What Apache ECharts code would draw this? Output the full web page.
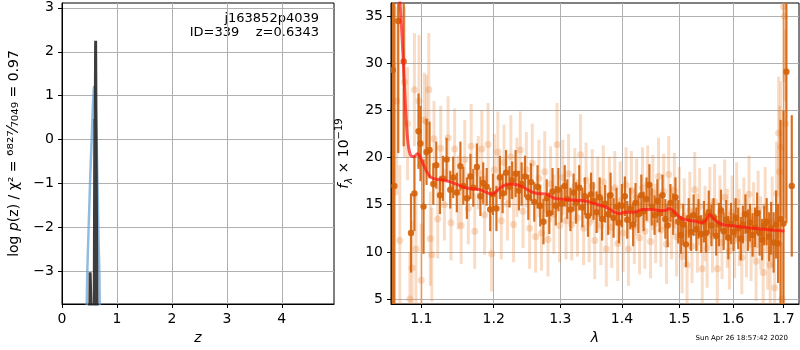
<!DOCTYPE html>
<html>
<head>
<meta charset="utf-8">
<title>redshift fit</title>
<script src="https://cdn.jsdelivr.net/npm/echarts@6.0.0/dist/echarts.min.js"></script>
<style>
  html, body { margin: 0; padding: 0; background: #fff; }
  #chart { width: 800px; height: 350px; }
</style>
</head>
<body>
<div id="chart"></div>
<script>
// ---- left panel: log p(z) ----
const zTicks = [0, 1, 2, 3, 4]
const logpTicks = [-3, -2, -1, 0, 1, 2, 3]
// log p(z) (dark line)
const pzZ = [0.500, 0.512, 0.528, 0.542, 0.585, 0.597, 0.604, 0.612, 0.617, 0.624, 0.640]
const pzLog = [-4.5, -3.02, -3.02, -4.5, -4.5, 0.47, 0.3, 2.25, 2.25, -1.0, -4.5]
// chi2 curve (blue line)
const chiZ = [0.440, 0.460, 0.490, 0.515, 0.540, 0.560, 0.575, 0.585, 0.600, 0.615, 0.630, 0.645, 0.665, 0.680, 0.695]
const chiLog = [-4.5, -3.0, -1.8, -0.8, 0.0, 0.7, 1.1, 1.22, 1.05, 0.6, 0.0, -0.9, -2.3, -3.0, -4.5]

// ---- right panel: spectrum ----
const lamTicks = [1.1, 1.2, 1.3, 1.4, 1.5, 1.6, 1.7]
const fluxTicks = [5, 10, 15, 20, 25, 30, 35]

// dark points: wavelength, flux, error
const darkLam = [1.063, 1.065, 1.070, 1.077, 1.0865, 1.091, 1.0964, 1.099, 1.103, 1.107, 1.111,
  1.116, 1.120, 1.125, 1.129, 1.134, 1.139, 1.143, 1.148, 1.153, 1.157, 1.162, 1.167, 1.171, 1.176,
  1.181, 1.185, 1.190, 1.195, 1.199, 1.204, 1.209, 1.213, 1.218, 1.223, 1.227, 1.232, 1.237, 1.241,
  1.246, 1.251, 1.255, 1.260, 1.265, 1.269, 1.274, 1.279, 1.283, 1.288, 1.293, 1.297, 1.302, 1.307,
  1.311, 1.316, 1.321, 1.325, 1.330, 1.335, 1.339, 1.344, 1.349, 1.353, 1.358, 1.363, 1.367, 1.372,
  1.377, 1.381, 1.386, 1.391, 1.395, 1.400, 1.405, 1.409, 1.414, 1.419, 1.423, 1.428, 1.433, 1.437,
  1.442, 1.447, 1.451, 1.456, 1.461, 1.465, 1.470, 1.475, 1.479, 1.484, 1.489, 1.493, 1.498, 1.503,
  1.507, 1.512, 1.517, 1.521, 1.526, 1.531, 1.535, 1.540, 1.545, 1.549, 1.554, 1.559, 1.563, 1.568,
  1.573, 1.577, 1.582, 1.587, 1.591, 1.596, 1.601, 1.605, 1.610, 1.615, 1.619, 1.624, 1.629, 1.633,
  1.638, 1.643, 1.647, 1.652, 1.657, 1.661, 1.666, 1.671, 1.675, 1.680, 1.685, 1.689, 1.694, 1.700,
  1.706, 1.717]
const darkFlux = [29.3, 17.0, 34.5, 30.2, 12.0, 16.2, 22.8, 21.5, 14.8, 20.6, 20.8,
  17.2, 19.2, 16.0, 17.8, 19.8, 16.6, 17.9, 16.3, 19.1, 17.0, 15.7, 18.0, 16.8, 19.0,
  15.9, 17.3, 16.9, 14.5, 16.1, 14.6, 17.9, 16.2, 18.4, 16.9, 17.6, 18.3, 16.5, 17.2,
  18.0, 15.8, 17.4, 15.3, 16.9, 14.9, 13.2, 15.7, 14.1, 16.4, 14.9, 16.6, 15.1, 17.0,
  15.6, 14.5, 16.3, 15.2, 16.8, 14.7, 15.9, 13.8, 16.1, 15.4, 14.2, 15.8, 13.5, 15.1,
  14.0, 16.0, 13.6, 14.8, 13.1, 14.9, 15.9, 13.4, 14.6, 12.9, 15.2, 14.0, 16.0, 14.3,
  15.6, 17.1, 14.8, 13.9, 15.4, 14.1, 16.0, 13.5, 12.8, 15.2, 14.0, 15.8, 13.2, 11.8,
  12.9, 10.8, 13.6, 12.1, 13.9, 12.4, 13.5, 11.9, 13.2, 12.0, 14.2, 12.8, 13.7, 11.7,
  12.9, 14.4, 12.2, 13.4, 11.5, 13.0, 12.1, 13.6, 12.5, 11.4, 12.9, 14.0, 12.3, 13.1,
  11.8, 12.6, 14.1, 12.0, 11.3, 12.8, 13.2, 11.6, 12.5, 11.0, 12.9, 10.9, 13.5, 13.0,
  29.1, 17.0]
const darkErr = [25, 22, 14, 9, 4.2, 4, 4, 4, 5, 3.5, 3,
  2.2, 2.5, 2.0, 2.4, 2.3, 2.0, 2.2, 2.1, 2.6, 2.0, 2.2, 2.4, 2.0, 2.5,
  2.1, 2.2, 2.0, 2.3, 2.2, 2.4, 2.3, 2.1, 2.4, 2.2, 2.0, 2.5, 2.1, 2.3,
  2.2, 2.4, 2.0, 2.1, 2.3, 2.2, 2.4, 2.0, 2.2, 2.5, 2.1, 2.3, 2.0, 2.2,
  2.1, 2.3, 2.0, 2.2, 2.4, 2.1, 2.0, 2.2, 2.3, 2.0, 2.2, 2.1, 2.3, 2.0,
  2.2, 2.4, 2.1, 2.0, 2.2, 2.3, 2.1, 2.0, 2.2, 2.3, 2.1, 2.0, 2.2, 2.1,
  2.3, 2.2, 2.0, 2.1, 2.3, 2.0, 2.2, 2.1, 2.3, 2.0, 2.2, 2.1, 2.3, 2.0,
  2.2, 2.4, 2.1, 2.0, 2.2, 2.3, 2.1, 2.0, 2.2, 2.1, 2.3, 2.2, 2.0, 2.1,
  2.3, 2.2, 2.0, 2.1, 2.3, 2.2, 2.0, 2.1, 2.2, 2.3, 2.0, 2.1, 2.2, 2.0,
  2.3, 2.1, 2.2, 2.4, 2.2, 2.1, 2.5, 2.6, 2.8, 3.2, 3.6, 4.2, 10.5, 12,
  16, 7.5]

// light points: wavelength, flux, error
const lightLam = [1.068, 1.072, 1.078, 1.082, 1.085, 1.088, 1.091, 1.093, 1.097, 1.100, 1.104,
  1.107, 1.110, 1.112, 1.114, 1.117, 1.122, 1.126, 1.131, 1.136, 1.140, 1.145, 1.150, 1.154,
  1.159, 1.164, 1.168, 1.173, 1.178, 1.183, 1.187, 1.192, 1.197, 1.201, 1.206, 1.211, 1.215,
  1.220, 1.225, 1.229, 1.234, 1.239, 1.243, 1.248, 1.253, 1.257, 1.262, 1.267, 1.271, 1.276,
  1.281, 1.285, 1.290, 1.295, 1.299, 1.304, 1.309, 1.313, 1.318, 1.323, 1.327, 1.332, 1.337,
  1.341, 1.346, 1.351, 1.355, 1.360, 1.365, 1.369, 1.374, 1.379, 1.383, 1.388, 1.393, 1.397,
  1.402, 1.407, 1.411, 1.416, 1.421, 1.425, 1.430, 1.435, 1.439, 1.444, 1.449, 1.453, 1.458,
  1.463, 1.467, 1.472, 1.477, 1.481, 1.486, 1.491, 1.495, 1.500, 1.505, 1.509, 1.514, 1.519,
  1.523, 1.528, 1.533, 1.537, 1.542, 1.547, 1.551, 1.556, 1.561, 1.565, 1.570, 1.575, 1.579,
  1.584, 1.589, 1.593, 1.598, 1.603, 1.607, 1.612, 1.617, 1.621, 1.626, 1.631, 1.635, 1.640,
  1.645, 1.649, 1.654, 1.659, 1.663, 1.668, 1.673, 1.677, 1.682, 1.686, 1.690, 1.692, 1.695,
  1.697, 1.700, 1.702, 1.704]
const lightFlux = [26.0, 11.2, 28.0, 23.6, 5.0, 8.3, 27.2, 10.3, 26.0, 7.0, 24.0,
  23.8, 27.2, 11.4, 9.7, 22.0, 13.5, 21.0, 15.0, 22.1, 13.1, 20.9, 16.3, 12.8,
  19.8, 14.6, 21.2, 12.2, 18.4, 20.9, 13.9, 21.4, 9.8, 18.7, 20.6, 13.3, 19.5,
  15.1, 20.1, 12.9, 17.9, 20.8, 14.3, 18.7, 12.5, 19.4, 11.6, 17.8, 12.0, 18.5,
  11.3, 17.2, 14.0, 21.4, 12.8, 17.9, 13.3, 18.3, 12.9, 17.0, 13.6, 20.3, 12.5,
  17.6, 13.1, 17.0, 11.2, 16.1, 12.8, 17.4, 10.3, 16.0, 12.6, 16.8, 10.9, 15.4,
  12.0, 17.1, 10.3, 16.5, 12.7, 15.8, 11.5, 16.8, 12.2, 17.2, 11.1, 16.3, 13.0,
  18.0, 12.3, 16.4, 10.8, 18.2, 13.1, 16.5, 11.6, 14.9, 9.5, 13.8, 8.6, 14.4,
  10.6, 16.6, 12.0, 14.8, 8.2, 13.0, 10.4, 14.9, 11.7, 15.3, 8.2, 14.0, 11.0,
  15.8, 12.5, 10.1, 14.2, 11.2, 15.3, 12.6, 9.4, 13.9, 11.5, 16.1, 10.8, 13.4,
  9.0, 14.5, 12.0, 7.8, 14.8, 10.3, 8.6, 13.2, 6.2, 16.2, 22.6, 18.5, 21.1,
  5.0, 36.0, 35.0, 23.6]
const lightErr = [10, 8, 8, 6, 5, 5, 6, 6, 7, 6, 5,
  5, 6, 5, 5, 4.0, 4.2, 4.5, 3.8, 4.4, 4.0, 4.3, 3.9, 4.1,
  4.2, 3.8, 4.5, 4.0, 3.9, 4.1, 4.2, 4.4, 4.0, 3.8, 4.3, 4.1, 4.0,
  3.9, 4.4, 4.0, 4.2, 4.1, 3.9, 4.0, 4.3, 4.2, 3.8, 4.1, 4.0, 4.3,
  3.9, 4.0, 4.2, 4.4, 3.9, 4.0, 4.1, 4.2, 3.8, 4.0, 4.1, 4.3, 3.9,
  4.0, 4.2, 3.9, 4.1, 4.0, 4.2, 3.9, 4.0, 4.1, 4.3, 3.9, 4.0, 4.2,
  4.1, 4.0, 3.9, 4.2, 4.0, 4.1, 3.9, 4.3, 4.0, 4.1, 3.9, 4.0, 4.2,
  4.1, 3.9, 4.0, 4.2, 4.1, 3.9, 4.0, 4.2, 4.1, 3.9, 4.0, 4.2, 4.1,
  3.9, 4.0, 4.2, 4.1, 3.9, 4.0, 4.2, 4.1, 3.9, 4.0, 4.2, 4.1, 3.9,
  4.0, 4.2, 4.1, 3.9, 4.0, 4.2, 4.1, 3.9, 4.0, 4.2, 4.1, 3.9, 4.0,
  4.2, 4.1, 3.9, 4.0, 4.2, 4.3, 4.5, 4.8, 5.0, 5.5, 6, 7, 7,
  6, 8, 9, 10]

// best-fit model (red line)
const modelLam = [1.066, 1.070, 1.0726, 1.076, 1.079, 1.082, 1.0856, 1.090, 1.095, 1.099, 1.103,
  1.108, 1.113, 1.120, 1.130, 1.140, 1.150, 1.160, 1.170, 1.180, 1.190, 1.198, 1.205, 1.214,
  1.224, 1.235, 1.245, 1.255, 1.265, 1.280, 1.290, 1.300, 1.320, 1.340, 1.360, 1.375, 1.385,
  1.396, 1.405, 1.420, 1.435, 1.450, 1.465, 1.475, 1.483, 1.490, 1.500, 1.510, 1.525, 1.540,
  1.548, 1.556, 1.562, 1.570, 1.580, 1.600, 1.620, 1.640, 1.660, 1.680, 1.702]
const modelFlux = [42.0, 38.5, 36.0, 31.0, 26.0, 22.0, 20.3, 20.1, 20.4, 20.0, 19.2,
  18.4, 17.9, 17.7, 17.6, 17.4, 17.1, 16.8, 16.7, 16.6, 16.3, 16.1, 16.5, 17.0,
  17.2, 17.1, 16.8, 16.4, 16.2, 16.1, 15.7, 15.6, 15.5, 15.4, 15.0, 14.7, 14.3,
  14.05, 14.2, 14.2, 14.5, 14.5, 14.4, 14.4, 14.6, 14.3, 13.7, 13.4, 13.3, 13.1,
  13.3, 13.95, 13.6, 13.2, 12.9, 12.76, 12.6, 12.5, 12.4, 12.3, 12.2]

const timestamp = 'Sun Apr 26 18:57:42 2020'

const font = 'DejaVu Sans'
const minus = (v) => String(v).replace('-', '\u2212')

// error bar + marker drawn through the axis scales
const errorBarRender = (color, width, radius) => (params, api) => {
  const x = api.value(0)
  const y = api.value(1)
  const e = api.value(2)
  const top = api.coord([x, y + e])
  const bottom = api.coord([x, y - e])
  const c = api.coord([x, y])
  return {
    type: 'group',
    children: [
      { type: 'line', shape: { x1: top[0], y1: top[1], x2: bottom[0], y2: bottom[1] }, style: { stroke: color, lineWidth: width } },
      { type: 'circle', shape: { cx: c[0], cy: c[1], r: radius }, style: { fill: color } }
    ]
  }
}

const zip3 = (a, b, c) => a.map((v, i) => [v, b[i], c[i]])
const zip2 = (a, b) => a.map((v, i) => [v, b[i]])

const axisCommon = {
  axisLine: { show: true, onZero: false, lineStyle: { color: '#000', width: 1 } },
  axisTick: { show: true, length: 4, lineStyle: { color: '#000' } },
  axisLabel: { color: '#000', fontFamily: font, fontSize: 14 },
  splitLine: { show: true, lineStyle: { color: '#b0b0b0', width: 1 } },
  nameTextStyle: { color: '#000', fontFamily: font, fontSize: 14 }
}

const chart = echarts.init(document.getElementById('chart'), null, { renderer: 'canvas' })

chart.setOption({
  animation: false,
  backgroundColor: '#fff',
  grid: [
    { left: 62, top: 3, width: 272, height: 301, show: true, borderColor: '#000', borderWidth: 1 },
    { left: 391, top: 3, width: 408, height: 301, show: true, borderColor: '#000', borderWidth: 1 }
  ],
  xAxis: [
    {
      ...axisCommon,
      gridIndex: 0,
      type: 'value',
      min: 0,
      max: 4.95,
      axisTick: { ...axisCommon.axisTick, customValues: zTicks },
      axisLabel: { ...axisCommon.axisLabel, customValues: zTicks, margin: 8 },
      name: 'z',
      nameLocation: 'middle',
      nameGap: 27,
      nameTextStyle: { ...axisCommon.nameTextStyle, fontStyle: 'italic' }
    },
    {
      ...axisCommon,
      gridIndex: 1,
      type: 'log',
      logBase: 10,
      min: 1.0607,
      max: 1.732,
      axisTick: { ...axisCommon.axisTick, customValues: lamTicks },
      axisLabel: { ...axisCommon.axisLabel, customValues: lamTicks, margin: 8, formatter: (v) => Number(v).toFixed(1) },
      name: 'λ',
      nameLocation: 'middle',
      nameGap: 27,
      nameTextStyle: { ...axisCommon.nameTextStyle, fontStyle: 'italic' }
    }
  ],
  yAxis: [
    {
      ...axisCommon,
      gridIndex: 0,
      type: 'value',
      min: -3.74,
      max: 3.11,
      axisTick: { ...axisCommon.axisTick, customValues: logpTicks },
      axisLabel: { ...axisCommon.axisLabel, customValues: logpTicks, margin: 8, formatter: minus },
      name: '{n|log }{i|p}{n|(z) / χ² = }{f|⁶⁸²⁷⁄₇₀₄₉}{n| = 0.97}',
      nameLocation: 'middle',
      nameGap: 40,
      nameTextStyle: {
        ...axisCommon.nameTextStyle,
        rich: {
          n: { fontFamily: font, fontSize: 14, color: '#000' },
          i: { fontFamily: font, fontSize: 14, fontStyle: 'italic', color: '#000' },
          f: { fontFamily: font, fontSize: 16, color: '#000' }
        }
      }
    },
    {
      ...axisCommon,
      gridIndex: 1,
      type: 'value',
      min: 4.47,
      max: 36.4,
      axisTick: { ...axisCommon.axisTick, customValues: fluxTicks },
      axisLabel: { ...axisCommon.axisLabel, customValues: fluxTicks, margin: 8 },
      name: '{i|f}{sub|λ}{n| × 10}{sup|−19}',
      nameLocation: 'middle',
      nameGap: 36,
      nameTextStyle: {
        ...axisCommon.nameTextStyle,
        rich: {
          n: { fontFamily: font, fontSize: 14, color: '#000', lineHeight: 20 },
          i: { fontFamily: font, fontSize: 14, fontStyle: 'italic', color: '#000', lineHeight: 20 },
          sub: { fontFamily: font, fontSize: 10, fontStyle: 'italic', color: '#000', verticalAlign: 'bottom', lineHeight: 20 },
          sup: { fontFamily: font, fontSize: 10, color: '#000', verticalAlign: 'top', lineHeight: 20 }
        }
      }
    }
  ],
  series: [
    {
      name: 'chi2',
      type: 'line',
      xAxisIndex: 0,
      yAxisIndex: 0,
      data: zip2(chiZ, chiLog),
      showSymbol: false,
      clip: true,
      lineStyle: { color: 'rgba(100,160,210,0.7)', width: 2.5 }
    },
    {
      name: 'pz',
      type: 'line',
      xAxisIndex: 0,
      yAxisIndex: 0,
      data: zip2(pzZ, pzLog),
      showSymbol: false,
      clip: true,
      lineStyle: { color: 'rgba(40,40,40,0.9)', width: 3 }
    },
    {
      name: 'light',
      type: 'custom',
      xAxisIndex: 1,
      yAxisIndex: 1,
      clip: true,
      data: zip3(lightLam, lightFlux, lightErr),
      renderItem: errorBarRender('rgba(232,128,50,0.28)', 3, 3.5)
    },
    {
      name: 'dark',
      type: 'custom',
      xAxisIndex: 1,
      yAxisIndex: 1,
      clip: true,
      data: zip3(darkLam, darkFlux, darkErr),
      renderItem: errorBarRender('rgba(212,98,10,0.9)', 2.2, 3.2)
    },
    {
      name: 'model',
      type: 'line',
      xAxisIndex: 1,
      yAxisIndex: 1,
      data: zip2(modelLam, modelFlux),
      showSymbol: false,
      smooth: 0.3,
      clip: true,
      lineStyle: { color: 'rgba(255,20,20,0.7)', width: 3 }
    }
  ],
  graphic: [
    {
      type: 'text',
      right: 481,
      top: 12,
      style: { text: 'j163852p4039', font: '13px "DejaVu Sans"', fill: '#000', align: 'right' }
    },
    {
      type: 'text',
      right: 481,
      top: 26,
      style: { text: 'ID=339    z=0.6343', font: '13px "DejaVu Sans"', fill: '#000', align: 'right' }
    },
    {
      type: 'text',
      right: 12,
      top: 335,
      style: { text: timestamp, font: '7px "DejaVu Sans"', fill: '#000' }
    }
  ]
})
</script>
</body>
</html>
